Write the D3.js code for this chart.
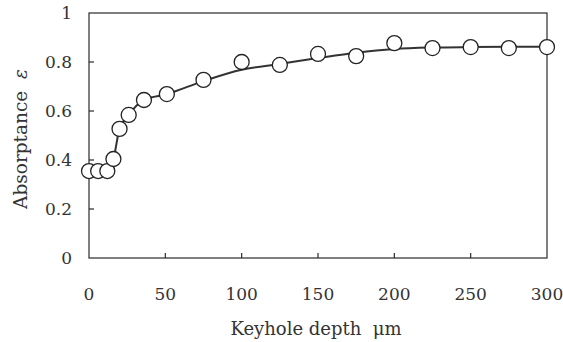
<!DOCTYPE html>
<html>
<head>
<meta charset="utf-8">
<script src="https://cdn.jsdelivr.net/npm/d3@7"></script>
<style>
  body { margin: 0; background: #fff; }
  svg { display: block; }
</style>
</head>
<body>
<svg id="chart" width="563" height="342"></svg>
<script>
// measured points
const depth = [0, 6, 12, 16, 20, 26, 36, 51, 75, 100, 125, 150, 175, 200, 225, 250, 275, 300];
const absorptance = [0.355, 0.355, 0.355, 0.404, 0.527, 0.584, 0.645, 0.669, 0.727, 0.80, 0.788, 0.833, 0.824, 0.877, 0.857, 0.861, 0.857, 0.861];

// fitted curve drawn under the circles
const fitDepth = [0, 12, 16, 20, 26, 36, 51, 75, 100, 125, 150, 175, 200, 225, 250, 275, 300];
const fitValue = [0.355, 0.355, 0.404, 0.527, 0.584, 0.645, 0.669, 0.722, 0.768, 0.792, 0.816, 0.838, 0.853, 0.859, 0.861, 0.862, 0.862];

const xTicks = [0, 50, 100, 150, 200, 250, 300];
const yTicks = [0, 0.2, 0.4, 0.6, 0.8, 1];

const serif = "'DejaVu Serif', serif";
const svg = d3.select('#chart');
const x = d3.scaleLinear().domain([0, 300]).range([89, 547]);
const y = d3.scaleLinear().domain([0, 1]).range([258, 13]);
const ink = '#2a2a2a';

// frame
svg.append('rect')
  .attr('x', x(0)).attr('y', y(1))
  .attr('width', x(300) - x(0)).attr('height', y(0) - y(1))
  .attr('fill', 'none').attr('stroke', ink).attr('stroke-width', 1.2);

// inward ticks
svg.selectAll('line.ytick')
  .data(yTicks.slice(1, -1))
  .enter().append('line')
  .attr('class', 'ytick')
  .attr('x1', x(0)).attr('x2', x(0) + 5)
  .attr('y1', (d) => y(d)).attr('y2', (d) => y(d))
  .attr('stroke', ink).attr('stroke-width', 1.2);

svg.selectAll('line.xtick')
  .data(xTicks.slice(1, -1))
  .enter().append('line')
  .attr('class', 'xtick')
  .attr('x1', (d) => x(d)).attr('x2', (d) => x(d))
  .attr('y1', y(0)).attr('y2', y(0) - 5)
  .attr('stroke', ink).attr('stroke-width', 1.2);

// tick labels
svg.selectAll('text.ylab')
  .data(yTicks)
  .enter().append('text')
  .attr('class', 'ylab')
  .attr('x', 72)
  .attr('y', (d) => y(d))
  .attr('dy', '0.35em')
  .attr('text-anchor', 'end')
  .attr('font-family', serif)
  .attr('font-size', 17)
  .attr('fill', '#333')
  .text((d) => d3.format('~g')(d));

svg.selectAll('text.xlab')
  .data(xTicks)
  .enter().append('text')
  .attr('class', 'xlab')
  .attr('x', (d) => x(d))
  .attr('y', 300)
  .attr('text-anchor', 'middle')
  .attr('font-family', serif)
  .attr('font-size', 17)
  .attr('fill', '#333')
  .text((d) => d);

// axis titles
svg.append('text')
  .attr('x', 316).attr('y', 335)
  .attr('text-anchor', 'middle')
  .attr('font-family', serif)
  .attr('font-size', 18)
  .attr('fill', '#333')
  .text('Keyhole depth\u00a0\u00a0\u03bcm');

const yt = svg.append('text')
  .attr('transform', 'translate(27,139) rotate(-90)')
  .attr('text-anchor', 'middle')
  .attr('font-family', serif)
  .attr('font-size', 18.5)
  .attr('fill', '#333');
yt.append('tspan').text('Absorptance\u00a0\u00a0');
yt.append('tspan').attr('font-style', 'italic').text('\u03b5');

// fitted line
const line = d3.line()
  .x((d, i) => x(fitDepth[i]))
  .y((d) => y(d))
  .curve(d3.curveMonotoneX);

svg.append('path')
  .datum(fitValue)
  .attr('d', line)
  .attr('fill', 'none')
  .attr('stroke', '#333')
  .attr('stroke-width', 2);

// circles
svg.selectAll('circle.pt')
  .data(absorptance)
  .enter().append('circle')
  .attr('class', 'pt')
  .attr('cx', (d, i) => x(depth[i]))
  .attr('cy', (d) => y(d))
  .attr('r', 7.5)
  .attr('fill', '#fff')
  .attr('stroke', '#222')
  .attr('stroke-width', 1.3);
</script>
</body>
</html>
